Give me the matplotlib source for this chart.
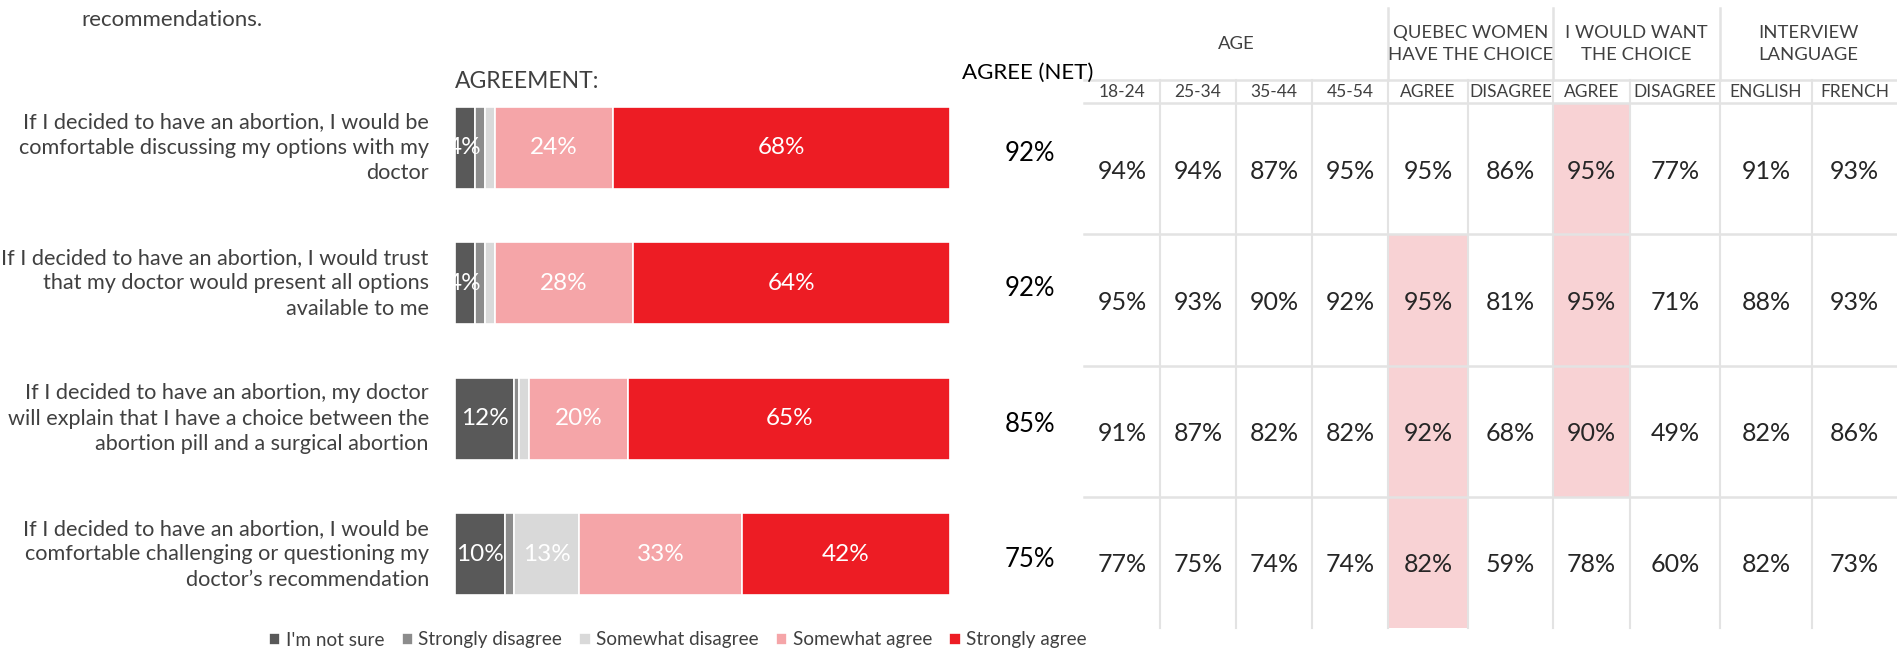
import numpy as np
import matplotlib.pyplot as plt
from matplotlib.patches import Rectangle

plt.rcParams['font.family'] = ['Lato', 'DejaVu Sans']

# ---- data ----
questions = [
    "If I decided to have an abortion, I would be\ncomfortable discussing my options with my\ndoctor",
    "If I decided to have an abortion, I would trust\nthat my doctor would present all options\navailable to me",
    "If I decided to have an abortion, my doctor\nwill explain that I have a choice between the\nabortion pill and a surgical abortion",
    "If I decided to have an abortion, I would be\ncomfortable challenging or questioning my\ndoctor\u2019s recommendation",
]
segments = ["I'm not sure", "Strongly disagree", "Somewhat disagree", "Somewhat agree", "Strongly agree"]
not_sure = [4, 4, 12, 10]
strongly_disagree = [2, 2, 1, 2]
somewhat_disagree = [2, 2, 2, 13]
somewhat_agree = [24, 28, 20, 33]
strongly_agree = [68, 64, 65, 42]
agree_net = [92, 92, 85, 75]

group_labels = ["AGE", "QUEBEC WOMEN\nHAVE THE CHOICE", "I WOULD WANT\nTHE CHOICE", "INTERVIEW\nLANGUAGE"]
group_sizes = [4, 2, 2, 2]
sub_labels = ["18-24", "25-34", "35-44", "45-54", "AGREE", "DISAGREE", "AGREE", "DISAGREE", "ENGLISH", "FRENCH"]
table_values = [
    [94, 94, 87, 95, 95, 86, 95, 77, 91, 93],
    [95, 93, 90, 92, 95, 81, 95, 71, 88, 93],
    [91, 87, 82, 82, 92, 68, 90, 49, 82, 86],
    [77, 75, 74, 74, 82, 59, 78, 60, 82, 73],
]
# cells flagged as significantly higher (row, column)
highlight = [(0, 6), (1, 4), (1, 6), (2, 4), (2, 6), (3, 4)]

# ---- style ----
colors = ['#595959', '#8c8c8c', '#d9d9d9', '#f5a5a8', '#ed1c24']
col_widths = [76, 76, 76, 76, 80, 85, 77, 90, 92, 85]
line_col = '#e3e3e3'
hl_col = '#f8d2d4'
txt_col = '#404040'

W, H = 1897, 649
fig = plt.figure(figsize=(W / 100, H / 100), dpi=100)

def fx(px):
    return px / W

def fy(py):
    return 1 - py / H

# ---- stacked bars ----
ax = fig.add_axes([fx(455), fy(622), 495 / W, (622 - 80) / H])
series = [not_sure, strongly_disagree, somewhat_disagree, somewhat_agree, strongly_agree]
ypos = np.arange(len(questions))
left = np.zeros(len(questions))
for name, vals, c in zip(segments, series, colors):
    vals = np.array(vals, dtype=float)
    ax.barh(ypos, vals, left=left, height=0.606, color=c, edgecolor='white',
            linewidth=1.2, label=name)
    for i, v in enumerate(vals):
        if v >= 4:
            ax.text(left[i] + v / 2, ypos[i], f"{int(v)}%", ha='center', va='center',
                    color='white', fontsize=17.5)
    left += vals
ax.set_xlim(0, 100)
ax.set_ylim(3.5, -0.5)
ax.axis('off')

for i, q in enumerate(questions):
    ax.text(-5.3, ypos[i], q, ha='right', va='center', fontsize=15.6,
            color=txt_col, linespacing=1.35, clip_on=False)
    ax.text(116.2, ypos[i] + 0.04, f"{agree_net[i]}%", ha='center', va='center',
            fontsize=18.5, color='black', clip_on=False)

fig.text(fx(455), fy(82), "AGREEMENT:", ha='left', va='center', fontsize=16.5, color=txt_col)
fig.text(fx(962), fy(73), "AGREE (NET)", ha='left', va='center', fontsize=16, color='black')
fig.text(fx(81), fy(20), "recommendations.", ha='left', va='center', fontsize=16, color=txt_col)

# ---- table ----
edges = np.concatenate([[0], np.cumsum(col_widths)])
tx = fig.add_axes([fx(1084), fy(628), edges[-1] / W, (628 - 103) / H])
tx.set_xlim(0, edges[-1])
tx.set_ylim(4, 0)
tx.axis('off')

for r, c in highlight:
    tx.add_patch(Rectangle((edges[c], r), col_widths[c], 1, facecolor=hl_col,
                           edgecolor='none', zorder=0))

sub_top = -23 / 131
grp_top = -95 / 131
for e in edges[1:-1]:
    tx.plot([e, e], [sub_top, 4], color=line_col, lw=1.5, clip_on=False, zorder=1)
for y in [sub_top, 0, 1, 2, 3]:
    tx.plot([0, edges[-1]], [y, y], color=line_col, lw=1.8, clip_on=False, zorder=1)
group_edges = np.concatenate([[0], np.cumsum(group_sizes)])
for g in group_edges[1:-1]:
    tx.plot([edges[g], edges[g]], [grp_top, sub_top], color=line_col, lw=1.8,
            clip_on=False, zorder=1)

for gi, lab in enumerate(group_labels):
    a, b = edges[group_edges[gi]], edges[group_edges[gi + 1]]
    tx.text((a + b) / 2, -0.45, lab, ha='center', va='center', fontsize=13.3,
            color=txt_col, linespacing=1.4, clip_on=False)
for ci, lab in enumerate(sub_labels):
    tx.text((edges[ci] + edges[ci + 1]) / 2, -0.085, lab, ha='center', va='center',
            fontsize=12.5, color=txt_col, clip_on=False)
for ri, row in enumerate(table_values):
    for ci, v in enumerate(row):
        tx.text((edges[ci] + edges[ci + 1]) / 2, ri + 0.52, f"{v}%", ha='center',
                va='center', fontsize=18, color='#262626')

# ---- legend ----
handles, labels = ax.get_legend_handles_labels()
fig.legend(handles, labels, loc='center', bbox_to_anchor=(fx(678), fy(640)), ncol=5,
           frameon=False, fontsize=13.6, handlelength=0.6, handleheight=0.6,
           handletextpad=0.3, columnspacing=0.9, labelcolor=txt_col)

fig.savefig('out.png', dpi=100)
